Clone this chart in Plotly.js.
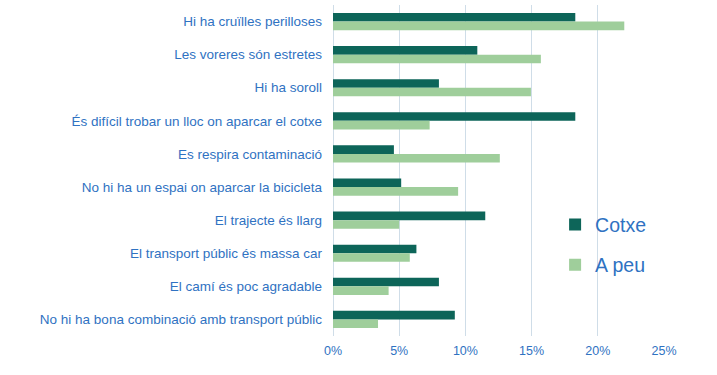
<!DOCTYPE html>
<html>
<head>
<meta charset="utf-8">
<script src="https://cdn.plot.ly/plotly-3.0.1.min.js"></script>
<style>html,body{margin:0;padding:0;background:#fff;}#chart{width:717px;height:375px;}</style>
</head>
<body>
<div id="chart"></div>
<script>
const categories = [
  "Hi ha cruïlles perilloses",
  "Les voreres són estretes",
  "Hi ha soroll",
  "És difícil trobar un lloc on aparcar el cotxe",
  "Es respira contaminació",
  "No hi ha un espai on aparcar la bicicleta",
  "El trajecte és llarg",
  "El transport públic és massa car",
  "El camí és poc agradable",
  "No hi ha bona combinació amb transport públic"
];
const cotxe = [18.3, 10.9, 8.0, 18.3, 4.6, 5.15, 11.5, 6.3, 8.0, 9.2];
const apeu  = [22.0, 15.7, 14.95, 7.3, 12.6, 9.45, 5.0, 5.8, 4.2, 3.4];
const seriesNames = ["Cotxe", "A peu"];
const tickVals = [0, 5, 10, 15, 20, 25];
const tickText = ["0%", "5%", "10%", "15%", "20%", "25%"];

const blue = "#2F72C2";
const traces = [
  {type: "bar", orientation: "h", name: seriesNames[0], y: categories, x: cotxe,
   marker: {color: "#0D6559"}, legendgroup: "a", hoverinfo: "x+y"},
  {type: "bar", orientation: "h", name: seriesNames[1], y: categories, x: apeu,
   marker: {color: "#9FCE9B"}, legendgroup: "b", hoverinfo: "x+y"}
];
const layout = {
  width: 717, height: 375,
  margin: {l: 333, r: 53, t: 5, b: 39},
  paper_bgcolor: "#fff", plot_bgcolor: "#fff",
  barmode: "group", bargap: 0.48, bargroupgap: 0,
  font: {family: "Liberation Sans, Arial, sans-serif", size: 12, color: blue},
  xaxis: {range: [0, 25], tickvals: tickVals, ticktext: tickText,
          showgrid: true, gridcolor: "#CFDDE8", gridwidth: 1,
          zeroline: true, zerolinecolor: "#CFDDE8", zerolinewidth: 1,
          showline: false, ticks: "", ticklabelstandoff: 5,
          tickfont: {size: 12.5, color: blue}, fixedrange: true},
  yaxis: {type: "category", autorange: "reversed", showgrid: false, zeroline: false,
          showline: false, ticks: "", ticklabelstandoff: 10,
          tickfont: {size: 13.5, color: blue}, fixedrange: true},
  showlegend: true,
  legend: {x: 0.671, y: 0.395, xanchor: "left", yanchor: "top",
           font: {size: 19.5, color: blue}, tracegroupgap: 12,
           bgcolor: "rgba(255,255,255,0)", traceorder: "grouped"}
};
Plotly.newPlot("chart", traces, layout, {displayModeBar: false, staticPlot: true});
</script>
</body>
</html>
